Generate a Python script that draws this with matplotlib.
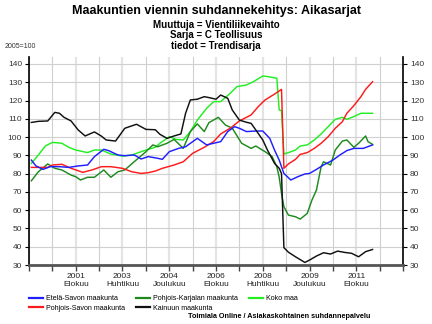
import pandas as pd
import matplotlib
matplotlib.use("Agg")
import matplotlib.pyplot as plt
from matplotlib.lines import Line2D

plt.rcParams["font.family"] = ["Liberation Sans", "DejaVu Sans"]

# --- data (trend series, 2005=100) ---
ete_savo_dates = ["2000-01", "2000-03", "2000-06", "2000-09", "2001-01", "2001-05", "2001-09", "2002-01",
                  "2002-04", "2002-08", "2002-10", "2003-02", "2003-05", "2003-09", "2003-12", "2004-03",
                  "2004-07", "2004-09", "2004-12", "2005-04", "2005-07", "2005-12", "2006-04", "2006-07",
                  "2006-10", "2007-01", "2007-04", "2007-06", "2007-09", "2008-01", "2008-04", "2008-07",
                  "2008-09", "2008-11", "2009-01", "2009-04", "2009-07", "2009-10", "2009-12", "2010-03",
                  "2010-06", "2010-10", "2011-01", "2011-04", "2011-07", "2011-11", "2012-03"]
ete_savo = [87.4, 84.2, 82.3, 83.8, 83.8, 83.4, 84.2, 84.7,
            89.3, 93.3, 92.6, 90.2, 89.8, 90.2, 88.0, 89.3,
            88.4, 87.8, 92.0, 93.8, 94.7, 99.3, 95.7, 96.6,
            97.5, 103.0, 105.7, 104.8, 103.0, 103.3, 103.3, 99.3,
            92.9, 87.4, 80.1, 76.5, 78.3, 79.8, 80.1, 82.3,
            84.7, 87.4, 90.2, 92.6, 93.8, 93.8, 95.7]

pohj_savo_dates = ["2000-01", "2000-08", "2000-10", "2001-02", "2001-06", "2001-11", "2002-03", "2002-07",
                   "2002-11", "2003-04", "2003-08", "2003-12", "2004-03", "2004-06", "2004-09", "2005-02",
                   "2005-06", "2005-10", "2006-03", "2006-07", "2006-10", "2007-02", "2007-06", "2007-11",
                   "2008-02", "2008-05", "2008-09", "2008-12", "2009-01", "2009-03", "2009-06", "2009-08",
                   "2009-11", "2010-02", "2010-05", "2010-08", "2010-11", "2011-02", "2011-04", "2011-07",
                   "2011-10", "2011-12", "2012-03"]
pohj_savo = [83.4, 83.4, 84.7, 85.1, 82.9, 80.7, 82.0, 83.8,
             83.8, 82.9, 81.0, 80.1, 80.5, 81.4, 82.9, 84.7,
             86.5, 91.1, 94.4, 97.5, 101.7, 104.8, 108.8, 112.1,
             116.6, 120.3, 123.5, 126.1, 82.9, 85.3, 87.8, 90.5,
             91.5, 93.8, 96.6, 100.2, 104.8, 108.4, 113.0, 117.2,
             122.1, 126.1, 130.3]

karjala_dates = ["2000-01", "2000-04", "2000-08", "2000-11", "2001-02", "2001-06", "2001-08", "2001-10",
                 "2002-01", "2002-04", "2002-08", "2002-11", "2003-02", "2003-05", "2003-09", "2004-02",
                 "2004-05", "2004-07", "2004-11", "2005-02", "2005-06", "2005-09", "2005-12", "2006-03",
                 "2006-05", "2006-09", "2006-12", "2007-03", "2007-07", "2007-11", "2008-01", "2008-05",
                 "2008-08", "2008-10", "2008-11", "2008-12", "2009-01", "2009-03", "2009-06", "2009-08",
                 "2009-11", "2010-01", "2010-03", "2010-05", "2010-06", "2010-09", "2010-11", "2011-02",
                 "2011-04", "2011-07", "2011-09", "2011-12", "2012-01", "2012-03"]
karjala = [76.1, 81.0, 85.3, 82.9, 82.0, 79.2, 78.3, 76.5,
           78.0, 78.0, 82.0, 78.0, 81.0, 82.0, 86.5, 92.0,
           95.7, 94.7, 96.6, 98.7, 93.8, 103.0, 107.2, 103.0,
           107.9, 110.8, 106.6, 104.8, 96.6, 93.8, 95.1, 92.0,
           89.3, 83.8, 78.0, 69.2, 61.9, 57.3, 56.4, 55.1,
           58.2, 65.5, 71.0, 83.8, 86.5, 84.7, 92.9, 97.8,
           98.4, 94.4, 96.6, 100.6, 97.5, 96.0]

kainuu_dates = ["2000-01", "2000-04", "2000-08", "2000-11", "2001-01", "2001-03", "2001-06", "2001-09",
                "2001-12", "2002-04", "2002-07", "2002-09", "2003-01", "2003-05", "2003-10", "2004-02",
                "2004-06", "2004-08", "2004-11", "2005-02", "2005-05", "2005-07", "2005-09", "2005-12",
                "2006-03", "2006-05", "2006-08", "2006-10", "2007-01", "2007-03", "2007-06", "2007-09",
                "2007-11", "2008-01", "2008-04", "2008-06", "2008-09", "2008-11", "2008-12", "2009-01",
                "2009-03", "2009-06", "2009-10", "2009-12", "2010-03", "2010-06", "2010-09", "2010-12",
                "2011-03", "2011-06", "2011-09", "2011-12", "2012-03"]
kainuu = [108.0, 108.6, 108.8, 113.5, 113.0, 110.8, 108.8, 103.9,
          100.6, 102.8, 100.5, 98.4, 97.8, 104.8, 107.0, 104.2,
          104.0, 101.5, 99.3, 100.6, 101.7, 113.0, 120.3, 120.7,
          122.1, 121.6, 120.7, 123.0, 121.2, 114.8, 109.3, 108.1,
          107.5, 103.9, 98.4, 92.9, 85.6, 82.9, 80.0, 39.5,
          37.0, 34.5, 31.4, 32.7, 34.9, 36.7, 36.0, 37.6,
          36.9, 36.4, 34.5, 37.3, 38.5]

koko_maa_dates = ["2000-01", "2000-04", "2000-07", "2000-10", "2001-02", "2001-05", "2001-08", "2002-01",
                  "2002-04", "2002-07", "2002-11", "2003-04", "2003-08", "2003-12", "2004-03", "2004-06",
                  "2004-08", "2004-12", "2005-03", "2005-06", "2005-09", "2005-12", "2006-04", "2006-07",
                  "2006-10", "2007-02", "2007-05", "2007-09", "2007-12", "2008-04", "2008-06", "2008-10",
                  "2008-11", "2008-12", "2009-01", "2009-03", "2009-06", "2009-08", "2009-11", "2010-02",
                  "2010-05", "2010-08", "2010-11", "2011-02", "2011-04", "2011-07", "2011-10", "2012-03"]
koko_maa = [85.6, 90.2, 95.1, 97.1, 96.6, 94.4, 92.9, 91.5,
            92.9, 92.9, 90.7, 89.6, 90.2, 92.0, 93.3, 94.4,
            96.6, 100.2, 98.7, 98.4, 103.0, 109.3, 115.7, 119.4,
            119.4, 123.9, 127.6, 128.5, 130.3, 133.4, 133.1, 132.2,
            114.8, 114.5, 90.7, 91.5, 92.9, 95.1, 95.7, 98.4,
            101.7, 105.7, 109.7, 110.8, 109.7, 111.2, 113.0, 113.0]

series = [
    ("Etelä-Savon maakunta", ete_savo_dates, ete_savo, "#1f1fff"),
    ("Pohjois-Savon maakunta", pohj_savo_dates, pohj_savo, "#ff1a1a"),
    ("Pohjois-Karjalan maakunta", karjala_dates, karjala, "#1e8a1e"),
    ("Kainuun maakunta", kainuu_dates, kainuu, "#111111"),
    ("Koko maa", koko_maa_dates, koko_maa, "#22ee22"),
]
month_names = {4: "Huhtikuu", 8: "Elokuu", 12: "Joulukuu"}

W, H = 432, 324
fig = plt.figure(figsize=(W / 100, H / 100), dpi=100)
ax = fig.add_axes([29 / W, 1 - 265 / H, 374 / W, 208 / H])

# draw order: lime & green underneath, black on top
for name, dates, vals, col in [series[4], series[2], series[1], series[0], series[3]]:
    ax.plot(pd.to_datetime(dates), vals, color=col, lw=1.05, zorder=3)

ticks = pd.date_range("1999-12-01", "2013-04-01", freq="10MS")
labels = []
for i, d in enumerate(ticks):
    labeled = i % 2 == 0 and 0 < i < len(ticks) - 1
    labels.append(f"{d.year}\n{month_names[d.month]}" if labeled else "")
    ax.axvline(d, color="#e4e4e4" if labeled else "#d0d0d0",
               lw=1.6 if labeled else 0.8, zorder=1)
ax.set_xticks(ticks, labels)
ax.set_xlim(ticks[0], ticks[-1])

ax.set_ylim(30, 143.8)
ax.set_yticks(range(30, 141, 10))
ax.grid(axis="y", color="#d0d0d0", lw=0.8, zorder=1)
ax.grid(axis="x", visible=False)

ax.tick_params(axis="x", length=4, width=1, color="#444444", labelsize=6,
               labelcolor="#222222", pad=2)
ax.tick_params(axis="y", length=3, width=0.8, labelsize=6, labelcolor="#333333",
               right=True, labelright=True, pad=2)

ax.spines["top"].set_visible(False)
ax.spines["bottom"].set_color("#555555")
ax.spines["bottom"].set_linewidth(2)
for s in ("left", "right"):
    ax.spines[s].set_color("black")
    ax.spines[s].set_linewidth(1.2)

fig.text(0.5, 1 - 11 / H, "Maakuntien viennin suhdannekehitys: Aikasarjat",
         ha="center", va="center", fontsize=9, fontweight="bold")
for y, s in [(25, "Muuttuja = Vientiliikevaihto"), (35.5, "Sarja = C Teollisuus"),
             (46, "tiedot = Trendisarja")]:
    fig.text(0.5, 1 - y / H, s, ha="center", va="center", fontsize=7, fontweight="bold")
fig.text(5 / W, 1 - 47 / H, "2005=100", ha="left", va="center", fontsize=5, color="#333333")

handles = [Line2D([], [], color=c, lw=1.6) for _, _, _, c in series]
fig.legend(handles, [n for n, _, _, _ in series], ncol=3, loc="upper left",
           bbox_to_anchor=(29 / W, 1 - 295 / H), frameon=False, fontsize=5.1,
           handlelength=2.0, handletextpad=0.45, columnspacing=1.5, labelspacing=0.42,
           borderpad=0, borderaxespad=0)

fig.text(370 / W, 1 - 317 / H, "Toimiala Online / Asiakaskohtainen suhdannepalvelu",
         ha="right", va="center", fontsize=5.2, fontweight="bold")

fig.savefig("out.png", dpi=100)
